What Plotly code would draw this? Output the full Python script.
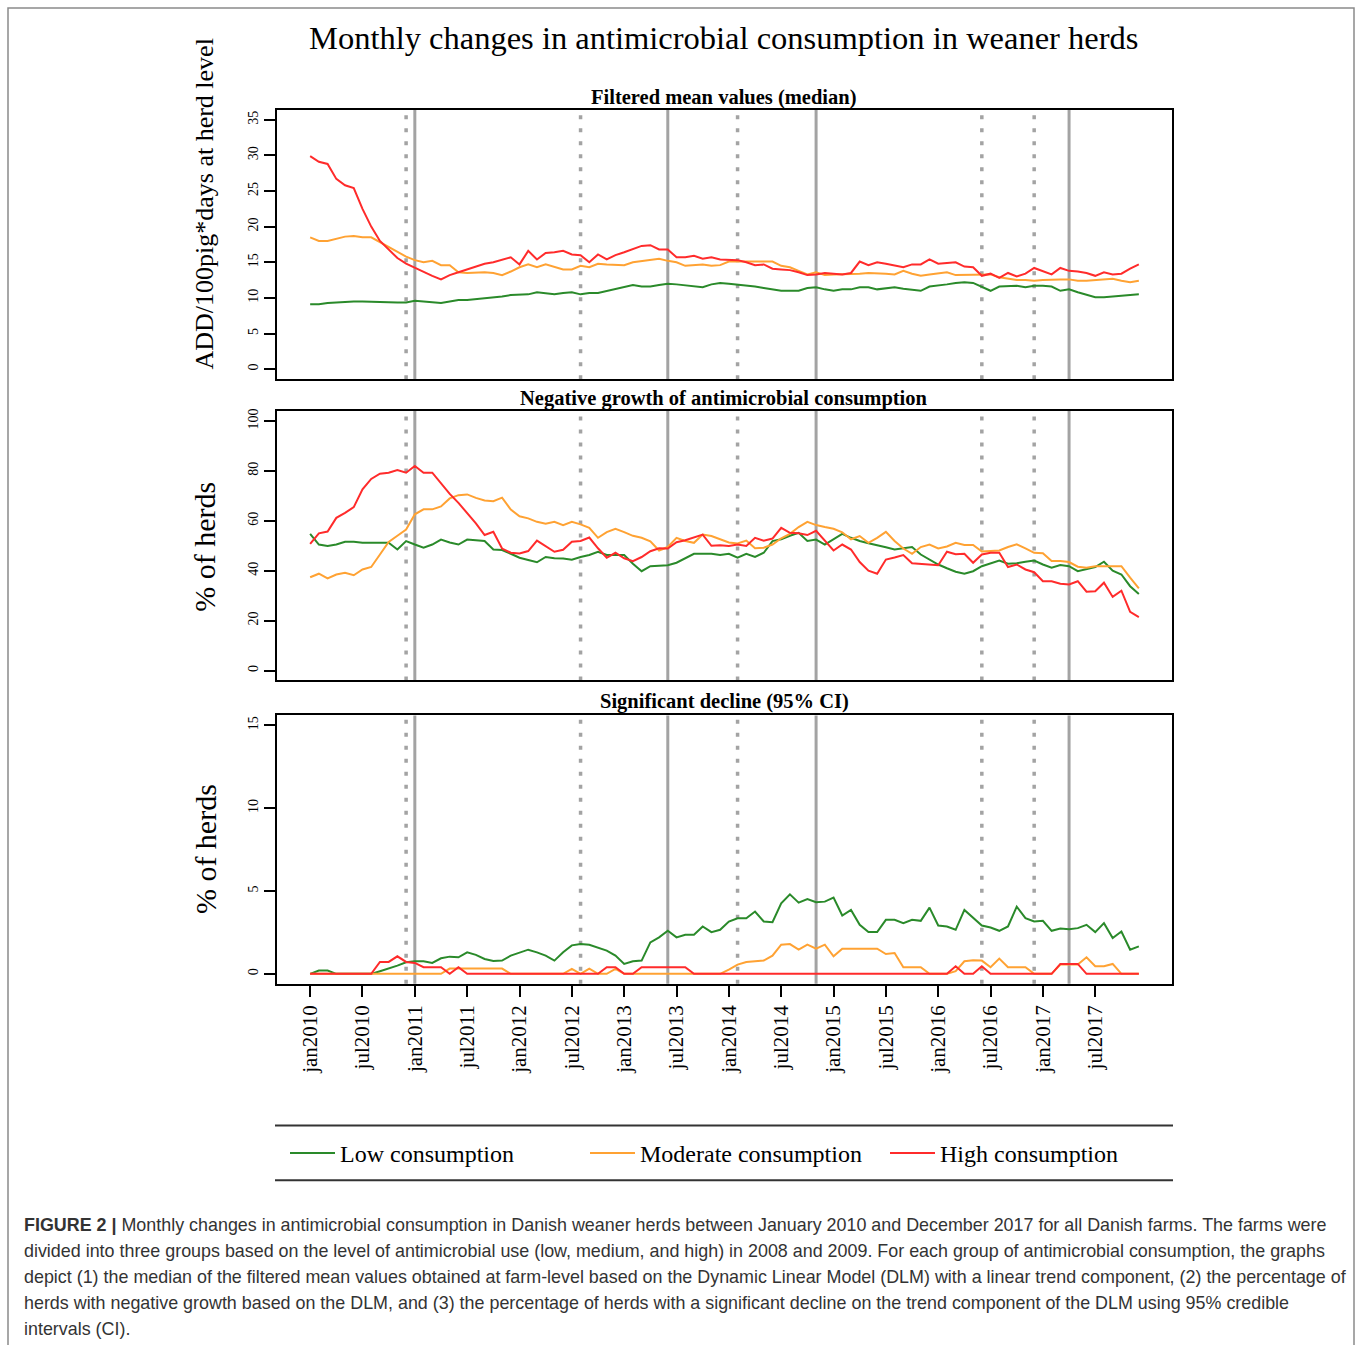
import plotly.graph_objects as go

# ---------------- data (month index 0 = jan2010 ... 95 = dec2017) ----------------
months = list(range(96))

tick_months = [0, 6, 12, 18, 24, 30, 36, 42, 48, 54, 60, 66, 72, 78, 84, 90]
tick_labels = ["jan2010", "jul2010", "jan2011", "jul2011", "jan2012", "jul2012",
               "jan2013", "jul2013", "jan2014", "jul2014", "jan2015", "jul2015",
               "jan2016", "jul2016", "jan2017", "jul2017"]

events_solid = [12, 41, 58, 87]
events_dotted = [11, 31, 49, 77, 83]

series_names = ["Low consumption", "Moderate consumption", "High consumption"]

# Panel 1: filtered mean values (median), ADD/100pig*days
filt_low = [9.1, 9.1, 9.3, 9.4, 9.5, 9.5, 9.5, 9.5, 9.5, 9.4, 9.35, 9.35, 9.6, 9.5, 9.4, 9.3,
            9.5, 9.7, 9.7, 9.8, 9.9, 10.0, 10.2, 10.4, 10.4, 10.5, 10.8, 10.6, 10.5, 10.7, 10.8, 10.5,
            10.7, 10.7, 11.0, 11.2, 11.5, 11.8, 11.6, 11.6, 11.8, 12.0, 11.9, 11.8, 11.7, 11.5, 11.9, 12.1,
            12.0, 11.9, 11.8, 11.6, 11.4, 11.2, 11.0, 11.0, 11.0, 11.4, 11.5, 11.2, 11.0, 11.2, 11.2, 11.5,
            11.5, 11.2, 11.4, 11.5, 11.3, 11.2, 11.0, 11.6, 11.7, 11.9, 12.1, 12.2, 12.1, 11.6, 11.0, 11.6,
            11.7, 11.7, 11.5, 11.7, 11.7, 11.6, 11.0, 11.2, 10.8, 10.4, 10.1, 10.1, 10.2, 10.3, 10.4, 10.5]
filt_mod = [18.5, 18.0, 18.0, 18.3, 18.6, 18.7, 18.5, 18.5, 17.8, 17.2, 16.5, 15.8, 15.3, 15.0, 15.2, 14.6,
            14.6, 13.6, 13.5, 13.6, 13.6, 13.5, 13.2, 13.7, 14.3, 14.7, 14.3, 14.7, 14.3, 14.0, 14.0, 14.5,
            14.3, 14.8, 14.7, 14.7, 14.6, 15.0, 15.2, 15.4, 15.5, 15.2, 15.0, 14.5, 14.6, 14.7, 14.5, 14.6,
            15.1, 15.1, 15.2, 15.1, 15.2, 15.1, 14.5, 14.3, 13.8, 13.3, 13.6, 13.2, 13.3, 13.3, 13.3, 13.4,
            13.5, 13.5, 13.4, 13.3, 13.8, 13.4, 13.1, 13.3, 13.4, 13.6, 13.2, 13.2, 13.3, 13.3, 13.3, 12.9,
            12.7, 12.5, 12.5, 12.4, 12.5, 12.6, 12.6, 12.6, 12.4, 12.4, 12.5, 12.6, 12.7, 12.4, 12.2, 12.4]
filt_high = [29.9, 29.1, 28.8, 26.7, 25.8, 25.4, 22.5, 20.0, 18.0, 16.8, 15.6, 14.8, 14.2, 13.6, 13.1, 12.6,
             13.2, 13.6, 14.0, 14.3, 14.8, 15.0, 15.4, 15.7, 14.7, 16.6, 15.4, 16.3, 16.4, 16.6, 16.1, 16.0,
             15.0, 16.1, 15.4, 16.0, 16.4, 16.9, 17.3, 17.4, 16.8, 16.8, 15.7, 15.7, 15.9, 15.5, 15.7, 15.4,
             15.3, 15.3, 15.0, 14.6, 14.7, 14.1, 14.0, 13.9, 13.6, 13.2, 13.3, 13.5, 13.4, 13.3, 13.5, 15.1,
             14.6, 15.0, 14.8, 14.6, 14.3, 14.7, 14.7, 15.4, 14.8, 14.9, 15.0, 14.4, 14.3, 13.1, 13.4, 12.8,
             13.5, 13.0, 13.4, 14.2, 13.8, 13.3, 14.2, 13.8, 13.7, 13.5, 13.1, 13.6, 13.3, 13.4, 14.1, 14.7]

# Panel 2: negative growth (% of herds)
neg_low = [54.8, 50.5, 49.9, 50.5, 51.6, 51.6, 51.2, 51.2, 51.2, 51.2, 48.5, 51.9, 50.5, 49.2, 50.5, 52.5,
           51.3, 50.5, 52.5, 52.2, 51.9, 48.5, 48.3, 46.8, 45.2, 44.3, 43.4, 45.5, 45.0, 44.9, 44.4, 45.5,
           46.3, 47.6, 46.3, 46.3, 46.3, 42.8, 39.8, 41.8, 42.0, 42.2, 43.2, 45.0, 46.8, 46.8, 46.8, 46.3,
           46.8, 45.2, 46.8, 45.5, 47.2, 51.9, 52.6, 54.0, 55.2, 51.9, 52.5, 50.5, 52.5, 54.8, 53.2, 51.9,
           51.0, 50.3, 49.4, 48.5, 49.0, 49.5, 46.5, 44.5, 42.5, 41.0, 39.6, 38.8, 39.8, 41.8, 43.0, 44.1,
           42.8, 43.0, 43.6, 44.1, 42.5, 41.2, 42.3, 41.8, 39.8, 40.5, 41.5, 43.6, 40.0, 38.5, 33.8, 30.7]
neg_mod = [37.4, 38.8, 36.9, 38.5, 39.2, 38.2, 40.5, 41.5, 46.5, 51.5, 54.0, 56.5, 62.6, 64.6, 64.6, 65.8,
           69.0, 70.3, 70.6, 69.2, 68.2, 67.9, 69.3, 64.5, 61.8, 61.0, 59.6, 58.8, 59.6, 58.3, 59.6, 58.6,
           57.2, 53.2, 55.5, 56.8, 55.5, 54.0, 53.2, 51.8, 48.1, 49.5, 53.2, 51.9, 51.2, 54.5, 53.9, 52.5,
           51.3, 50.9, 52.1, 49.0, 49.2, 50.5, 53.0, 54.8, 57.5, 59.6, 58.3, 57.5, 56.8, 55.4, 52.6, 53.9,
           51.2, 53.2, 55.6, 51.9, 48.9, 46.8, 49.5, 50.5, 48.9, 49.7, 51.2, 50.3, 50.3, 47.7, 47.8, 48.1,
           49.5, 50.6, 49.0, 47.2, 47.0, 43.9, 43.9, 43.5, 41.6, 41.2, 41.8, 41.8, 41.8, 41.8, 37.2, 32.9]
neg_high = [50.8, 55.0, 55.7, 61.2, 63.2, 65.5, 72.6, 76.8, 78.9, 79.3, 80.4, 79.3, 82.0, 79.3, 79.3, 75.0,
            70.8, 67.2, 63.2, 59.0, 54.3, 55.6, 48.9, 47.2, 46.9, 47.9, 52.1, 50.0, 47.6, 48.4, 51.6, 51.9,
            53.3, 49.0, 45.2, 47.2, 45.0, 43.8, 45.5, 47.8, 49.0, 48.9, 51.4, 52.2, 53.5, 54.5, 50.0, 50.2,
            49.9, 50.5, 49.9, 53.2, 52.0, 52.9, 57.2, 55.2, 55.0, 54.3, 56.0, 52.1, 48.1, 50.5, 48.5, 43.5,
            40.0, 38.8, 44.5, 45.3, 46.3, 43.0, 42.8, 42.5, 42.2, 47.6, 46.6, 46.8, 43.2, 46.5, 47.2, 47.2,
            41.5, 42.5, 40.5, 39.4, 35.8, 35.8, 34.8, 34.5, 35.8, 31.6, 31.8, 35.2, 29.5, 32.0, 23.5, 21.4]

# Panel 3: significant decline (95% CI), % of herds
sig_low = [0.0, 0.2, 0.2, 0.0, 0.0, 0.0, 0.0, 0.0, 0.16, 0.32, 0.5, 0.7, 0.76, 0.76, 0.66, 0.94,
           1.04, 1.0, 1.3, 1.15, 0.9, 0.78, 0.8, 1.1, 1.3, 1.46, 1.3, 1.1, 0.8, 1.3, 1.72, 1.8,
           1.76, 1.6, 1.4, 1.1, 0.6, 0.76, 0.8, 1.9, 2.2, 2.6, 2.2, 2.36, 2.36, 2.86, 2.52, 2.66,
           3.16, 3.36, 3.36, 3.76, 3.16, 3.12, 4.26, 4.8, 4.3, 4.52, 4.32, 4.36, 4.6, 3.52, 3.86, 2.96,
           2.52, 2.52, 3.26, 3.26, 3.06, 3.26, 3.2, 4.0, 2.92, 2.86, 2.66, 3.86, 3.36, 2.92, 2.8, 2.6,
           2.86, 4.06, 3.36, 3.16, 3.2, 2.6, 2.74, 2.7, 2.76, 2.96, 2.52, 3.06, 2.16, 2.56, 1.46, 1.66]
sig_mod = [0, 0, 0, 0, 0, 0, 0, 0, 0, 0, 0, 0, 0, 0, 0, 0,
           0.32, 0.32, 0.32, 0.32, 0.32, 0.32, 0.32, 0, 0, 0, 0, 0, 0, 0, 0.3, 0,
           0.32, 0, 0, 0.3, 0, 0, 0, 0, 0, 0, 0, 0, 0, 0, 0, 0,
           0.26, 0.56, 0.72, 0.76, 0.8, 1.1, 1.76, 1.8, 1.46, 1.76, 1.52, 1.76, 1.06, 1.52, 1.52, 1.52,
           1.52, 1.52, 1.2, 1.26, 0.4, 0.4, 0.4, 0, 0, 0, 0.16, 0.76, 0.82, 0.8, 0.4, 0.92,
           0.4, 0.4, 0.4, 0, 0, 0, 0.56, 0.56, 0.56, 1.0, 0.46, 0.46, 0.6, 0, 0, 0]
sig_high = [0, 0, 0, 0, 0, 0, 0, 0, 0.72, 0.72, 1.06, 0.72, 0.66, 0.4, 0.4, 0.4,
            0, 0.4, 0, 0, 0, 0, 0, 0, 0, 0, 0, 0, 0, 0, 0, 0,
            0, 0, 0.4, 0.4, 0, 0, 0.4, 0.4, 0.4, 0.4, 0.4, 0.4, 0, 0, 0, 0,
            0, 0, 0, 0, 0, 0, 0, 0, 0, 0, 0, 0, 0, 0, 0, 0,
            0, 0, 0, 0, 0, 0, 0, 0, 0, 0, 0.46, 0, 0, 0.46, 0, 0,
            0, 0, 0, 0, 0, 0, 0.6, 0.6, 0.6, 0, 0, 0, 0, 0, 0, 0]

caption_lines = [
    "<b>FIGURE 2 |</b> Monthly changes in antimicrobial consumption in Danish weaner herds between January 2010 and December 2017 for all Danish farms. The farms were",
    "divided into three groups based on the level of antimicrobial use (low, medium, and high) in 2008 and 2009. For each group of antimicrobial consumption, the graphs",
    "depict (1) the median of the filtered mean values obtained at farm-level based on the Dynamic Linear Model (DLM) with a linear trend component, (2) the percentage of",
    "herds with negative growth based on the DLM, and (3) the percentage of herds with a significant decline on the trend component of the DLM using 95% credible",
    "intervals (CI).",
]

# ---------------- styling ----------------
W, H = 1360, 1345
SERIF = "Liberation Serif, Times New Roman, serif"
SANS = "Liberation Sans, Arial, sans-serif"
colors = ["#2A8A2A", "#FFA233", "#FF2B2B"]
GREY = "#A3A3A3"

def py(px):
    return 1 - px / H

def pxx(px):
    return px / W

x_dom = [pxx(277), pxx(1172)]
panels = [
    dict(dom=[py(377), py(107)], rng=[-1.4, 36.4], ticks=[0, 5, 10, 15, 20, 25, 30, 35],
         data=[filt_low, filt_mod, filt_high], title="Filtered mean values (median)", tpos=95),
    dict(dom=[py(679), py(409)], rng=[-4, 104], ticks=[0, 20, 40, 60, 80, 100],
         data=[neg_low, neg_mod, neg_high], title="Negative growth of antimicrobial consumption", tpos=396),
    dict(dom=[py(983), py(714)], rng=[-0.6, 15.6], ticks=[0, 5, 10, 15],
         data=[sig_low, sig_mod, sig_high], title="Significant decline (95% CI)", tpos=700),
]

fig = go.Figure()
layout = dict(
    width=W, height=H, autosize=False,
    margin=dict(l=0, r=0, t=0, b=0),
    paper_bgcolor="white", plot_bgcolor="white",
    showlegend=True,
    font=dict(family=SERIF, color="black"),
)
shapes = []
annotations = []

for i, p in enumerate(panels):
    k = "" if i == 0 else str(i + 1)
    xa, ya = "x" + k, "y" + k
    for j in range(3):
        fig.add_trace(go.Scatter(
            x=months, y=p["data"][j], mode="lines", name=series_names[j],
            line=dict(color=colors[j], width=2), xaxis=xa, yaxis=ya,
            showlegend=(i == 0), hoverinfo="x+y"))
    last = (i == 2)
    layout["xaxis" + k] = dict(
        domain=x_dom, range=[-3.8, 98.8], anchor=ya, showgrid=False, zeroline=False,
        showline=True, mirror=True, linecolor="black", linewidth=2,
        tickmode="array", tickvals=tick_months if last else [],
        ticktext=tick_labels if last else [],
        ticks="outside" if last else "", ticklen=11, tickwidth=1.5, tickcolor="black",
        tickangle=-90, tickfont=dict(family=SERIF, size=21, color="black"),
        showticklabels=last,
    )
    layout["yaxis" + k] = dict(
        domain=p["dom"], range=p["rng"], anchor=xa, showgrid=False, zeroline=False,
        showline=True, mirror=True, linecolor="black", linewidth=2,
        tickmode="array", tickvals=p["ticks"], ticks="outside", ticklen=11,
        tickwidth=1.5, tickcolor="black", tickangle=-90,
        tickfont=dict(family=SERIF, size=14, color="black"),
    )
    for ev in events_dotted:
        shapes.append(dict(type="line", xref=xa, yref=ya + " domain", x0=ev, x1=ev, y0=0, y1=1,
                           line=dict(color=GREY, width=3.5, dash="4px,9px"), layer="below"))
    for ev in events_solid:
        shapes.append(dict(type="line", xref=xa, yref=ya + " domain", x0=ev, x1=ev, y0=0, y1=1,
                           line=dict(color=GREY, width=3), layer="below"))
    annotations.append(dict(text="<b>" + p["title"] + "</b>", x=pxx(724), y=py(p["tpos"]),
                            xref="paper", yref="paper", showarrow=False, xanchor="center",
                            yanchor="middle", font=dict(family=SERIF, size=20.5, color="black")))

# titles
annotations.append(dict(text="Monthly changes in antimicrobial consumption in weaner herds",
                        x=pxx(723), y=py(35), xref="paper", yref="paper", showarrow=False,
                        xanchor="center", yanchor="middle",
                        font=dict(family=SERIF, size=32.5, color="black")))
annotations.append(dict(text="ADD/100pig*days at herd level", x=pxx(205), y=py(202),
                        xref="paper", yref="paper", showarrow=False, textangle=-90,
                        xanchor="center", yanchor="middle",
                        font=dict(family=SERIF, size=26, color="black")))
for yc in (545, 848):
    annotations.append(dict(text="% of herds", x=pxx(205), y=py(yc), xref="paper", yref="paper",
                            showarrow=False, textangle=-90, xanchor="center", yanchor="middle",
                            font=dict(family=SERIF, size=30, color="black")))

# caption
for n, line in enumerate(caption_lines):
    annotations.append(dict(text=line, x=pxx(22), y=py(1225 + 26 * n), xref="paper", yref="paper",
                            showarrow=False, xanchor="left", yanchor="middle", align="left",
                            font=dict(family=SANS, size=17.9, color="#333333")))

# legend rules and outer frame
shapes.append(dict(type="line", xref="paper", yref="paper", x0=pxx(275), x1=pxx(1173),
                   y0=py(1125), y1=py(1125), line=dict(color="#333333", width=2)))
shapes.append(dict(type="line", xref="paper", yref="paper", x0=pxx(275), x1=pxx(1173),
                   y0=py(1180), y1=py(1180), line=dict(color="#333333", width=2)))
shapes.append(dict(type="rect", xref="paper", yref="paper", x0=pxx(8), x1=pxx(1354),
                   y0=py(1352), y1=py(5), line=dict(color="#8A8A8A", width=1.5)))

layout["legend"] = dict(
    orientation="h", x=pxx(285), y=py(1153), xanchor="left", yanchor="middle",
    entrywidth=240, entrywidthmode="pixels", itemwidth=45,
    font=dict(family=SERIF, size=24, color="black"), bgcolor="rgba(0,0,0,0)",
)
layout["shapes"] = shapes
layout["annotations"] = annotations
fig.update_layout(**layout)

fig.write_html(
    "out.html",
    config={"displayModeBar": False},
    post_script=("document.body.style.margin='0px';"
                 "document.body.style.overflow='hidden';"
                 "document.documentElement.style.overflow='hidden';"),
)
